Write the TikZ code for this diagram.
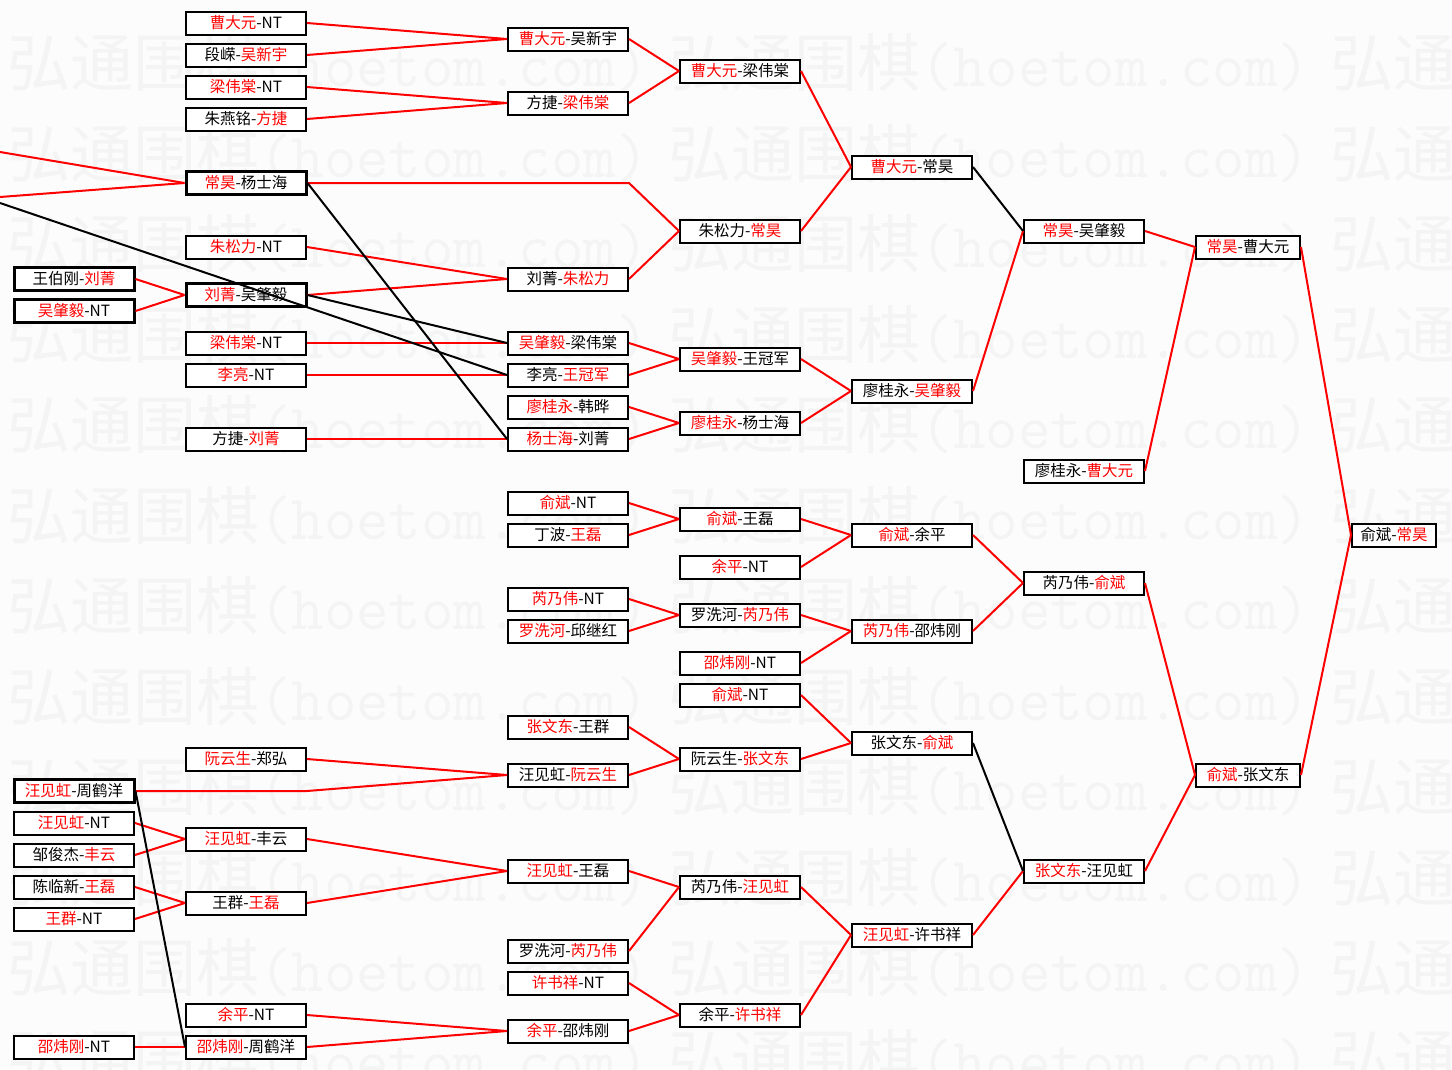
\documentclass[tikz,border=0pt]{standalone}
\usepackage{fontspec}
\setmainfont{Noto Sans CJK SC}
\newcommand\Rd[1]{\textcolor{red}{#1}}
\begin{document}
\begin{tikzpicture}[x=1pt,y=-1pt,
  box/.style={draw=black,line width=2pt,fill=white,minimum width=120pt,minimum height=23pt,inner sep=0pt,font=\fontsize{15.5}{16}\selectfont},
  tbox/.style={box,line width=3pt},
  rl/.style={draw=red,line width=2pt},
  bl/.style={draw=black,line width=2pt},
  wm/.style={anchor=west,inner sep=0pt,text=black!4.5,font=\fontsize{63}{63}\selectfont}]
\useasboundingbox (0,0) rectangle (1452,1069);
\fill[black!1.2] (0,0) rectangle (1452,1069);
\begin{scope}
\clip (0,0) rectangle (1452,1069);
\foreach \k in {0,...,11}{
  \foreach \j in {0,1,2}{
    \node[wm] (wm\k\j) at ({7+661.5*\j},{63+90.5*\k}) {弘通围棋{\ttfamily (hoetom.com)}};
  }
}
\end{scope}
% column A
\node[tbox] (a1) at (74,279) {王伯刚-\Rd{刘菁}};
\node[tbox] (a2) at (74,311) {\Rd{吴肇毅}-NT};
\node[tbox] (a3) at (74,791) {\Rd{汪见虹}-周鹤洋};
\node[box] (a4) at (74,823) {\Rd{汪见虹}-NT};
\node[box] (a5) at (74,855) {邹俊杰-\Rd{丰云}};
\node[box] (a6) at (74,887) {陈临新-\Rd{王磊}};
\node[box] (a7) at (74,919) {\Rd{王群}-NT};
\node[box] (a8) at (74,1047) {\Rd{邵炜刚}-NT};
% column B
\node[box] (b1) at (246,23) {\Rd{曹大元}-NT};
\node[box] (b2) at (246,55) {段嵘-\Rd{吴新宇}};
\node[box] (b3) at (246,87) {\Rd{梁伟棠}-NT};
\node[box] (b4) at (246,119) {朱燕铭-\Rd{方捷}};
\node[tbox] (b5) at (246,183) {\Rd{常昊}-杨士海};
\node[box] (b6) at (246,247) {\Rd{朱松力}-NT};
\node[tbox] (b7) at (246,295) {\Rd{刘菁}-吴肇毅};
\node[box] (b8) at (246,343) {\Rd{梁伟棠}-NT};
\node[box] (b9) at (246,375) {\Rd{李亮}-NT};
\node[box] (b10) at (246,439) {方捷-\Rd{刘菁}};
\node[box] (b11) at (246,759) {\Rd{阮云生}-郑弘};
\node[box] (b12) at (246,839) {\Rd{汪见虹}-丰云};
\node[box] (b13) at (246,903) {王群-\Rd{王磊}};
\node[box] (b14) at (246,1015) {\Rd{余平}-NT};
\node[box] (b15) at (246,1047) {\Rd{邵炜刚}-周鹤洋};
% column C
\node[box] (c1) at (568,39) {\Rd{曹大元}-吴新宇};
\node[box] (c2) at (568,103) {方捷-\Rd{梁伟棠}};
\node[box] (c3) at (568,279) {刘菁-\Rd{朱松力}};
\node[box] (c4) at (568,343) {\Rd{吴肇毅}-梁伟棠};
\node[box] (c5) at (568,375) {李亮-\Rd{王冠军}};
\node[box] (c6) at (568,407) {\Rd{廖桂永}-韩晔};
\node[box] (c7) at (568,439) {\Rd{杨士海}-刘菁};
\node[box] (c8) at (568,503) {\Rd{俞斌}-NT};
\node[box] (c9) at (568,535) {丁波-\Rd{王磊}};
\node[box] (c10) at (568,599) {\Rd{芮乃伟}-NT};
\node[box] (c11) at (568,631) {\Rd{罗洗河}-邱继红};
\node[box] (c12) at (568,727) {\Rd{张文东}-王群};
\node[box] (c13) at (568,775) {汪见虹-\Rd{阮云生}};
\node[box] (c14) at (568,871) {\Rd{汪见虹}-王磊};
\node[box] (c15) at (568,951) {罗洗河-\Rd{芮乃伟}};
\node[box] (c16) at (568,983) {\Rd{许书祥}-NT};
\node[box] (c17) at (568,1031) {\Rd{余平}-邵炜刚};
% column D
\node[box] (d1) at (740,71) {\Rd{曹大元}-梁伟棠};
\node[box] (d2) at (740,231) {朱松力-\Rd{常昊}};
\node[box] (d3) at (740,359) {\Rd{吴肇毅}-王冠军};
\node[box] (d4) at (740,423) {\Rd{廖桂永}-杨士海};
\node[box] (d5) at (740,519) {\Rd{俞斌}-王磊};
\node[box] (d6) at (740,567) {\Rd{余平}-NT};
\node[box] (d7) at (740,615) {罗洗河-\Rd{芮乃伟}};
\node[box] (d8) at (740,663) {\Rd{邵炜刚}-NT};
\node[box] (d9) at (740,695) {\Rd{俞斌}-NT};
\node[box] (d10) at (740,759) {阮云生-\Rd{张文东}};
\node[box] (d11) at (740,887) {芮乃伟-\Rd{汪见虹}};
\node[box] (d12) at (740,1015) {余平-\Rd{许书祥}};
% column E
\node[box] (e1) at (912,167) {\Rd{曹大元}-常昊};
\node[box] (e2) at (912,391) {廖桂永-\Rd{吴肇毅}};
\node[box] (e3) at (912,535) {\Rd{俞斌}-余平};
\node[box] (e4) at (912,631) {\Rd{芮乃伟}-邵炜刚};
\node[box] (e5) at (912,743) {张文东-\Rd{俞斌}};
\node[box] (e6) at (912,935) {\Rd{汪见虹}-许书祥};
% column F
\node[box] (f1) at (1084,231) {\Rd{常昊}-吴肇毅};
\node[box] (f2) at (1084,471) {廖桂永-\Rd{曹大元}};
\node[box] (f3) at (1084,583) {芮乃伟-\Rd{俞斌}};
\node[box] (f4) at (1084,871) {\Rd{张文东}-汪见虹};
% column G
\node[box,minimum width=104pt] (g1) at (1248,247) {\Rd{常昊}-曹大元};
\node[box,minimum width=104pt] (g2) at (1248,775) {\Rd{俞斌}-张文东};
% column H
\node[box,minimum width=84pt] (h1) at (1394,535) {俞斌-\Rd{常昊}};
% free ends and bends
\coordinate (L1) at (0,152);
\coordinate (L2) at (0,197);
\coordinate (L3) at (0,203);
\coordinate (k1) at (629,183);
\coordinate (k2) at (307,791);
% red connectors
\draw[rl] (b1.east) -- (c1.west);
\draw[rl] (b2.east) -- (c1.west);
\draw[rl] (b3.east) -- (c2.west);
\draw[rl] (b4.east) -- (c2.west);
\draw[rl] (c1.east) -- (d1.west);
\draw[rl] (c2.east) -- (d1.west);
\draw[rl] (b5.east) -- (k1) -- (d2.west);
\draw[rl] (c3.east) -- (d2.west);
\draw[rl] (d1.east) -- (e1.west);
\draw[rl] (d2.east) -- (e1.west);
\draw[rl] (b6.east) -- (c3.west);
\draw[rl] (b7.east) -- (c3.west);
\draw[rl] (a1.east) -- (b7.west);
\draw[rl] (a2.east) -- (b7.west);
\draw[rl] (L1) -- (b5.west);
\draw[rl] (L2) -- (b5.west);
\draw[rl] (b8.east) -- (c4.west);
\draw[rl] (b9.east) -- (c5.west);
\draw[rl] (b10.east) -- (c7.west);
\draw[rl] (c4.east) -- (d3.west);
\draw[rl] (c5.east) -- (d3.west);
\draw[rl] (c6.east) -- (d4.west);
\draw[rl] (c7.east) -- (d4.west);
\draw[rl] (d3.east) -- (e2.west);
\draw[rl] (d4.east) -- (e2.west);
\draw[rl] (e2.east) -- (f1.west);
\draw[rl] (f1.east) -- (g1.west);
\draw[rl] (f2.east) -- (g1.west);
\draw[rl] (g1.east) -- (h1.west);
\draw[rl] (g2.east) -- (h1.west);
\draw[rl] (c8.east) -- (d5.west);
\draw[rl] (c9.east) -- (d5.west);
\draw[rl] (d5.east) -- (e3.west);
\draw[rl] (d6.east) -- (e3.west);
\draw[rl] (c10.east) -- (d7.west);
\draw[rl] (c11.east) -- (d7.west);
\draw[rl] (d7.east) -- (e4.west);
\draw[rl] (d8.east) -- (e4.west);
\draw[rl] (e3.east) -- (f3.west);
\draw[rl] (e4.east) -- (f3.west);
\draw[rl] (f3.east) -- (g2.west);
\draw[rl] (d9.east) -- (e5.west);
\draw[rl] (d10.east) -- (e5.west);
\draw[rl] (c12.east) -- (d10.west);
\draw[rl] (c13.east) -- (d10.west);
\draw[rl] (b11.east) -- (c13.west);
\draw[rl] (a3.east) -- (k2) -- (c13.west);
\draw[rl] (f4.east) -- (g2.west);
\draw[rl] (a4.east) -- (b12.west);
\draw[rl] (a5.east) -- (b12.west);
\draw[rl] (a6.east) -- (b13.west);
\draw[rl] (a7.east) -- (b13.west);
\draw[rl] (b12.east) -- (c14.west);
\draw[rl] (b13.east) -- (c14.west);
\draw[rl] (c14.east) -- (d11.west);
\draw[rl] (c15.east) -- (d11.west);
\draw[rl] (d11.east) -- (e6.west);
\draw[rl] (d12.east) -- (e6.west);
\draw[rl] (e6.east) -- (f4.west);
\draw[rl] (c16.east) -- (d12.west);
\draw[rl] (c17.east) -- (d12.west);
\draw[rl] (b14.east) -- (c17.west);
\draw[rl] (b15.east) -- (c17.west);
\draw[rl] (a8.east) -- (b15.west);
% black connectors
\draw[bl] (e1.east) -- (f1.west);
\draw[bl] (e5.east) -- (f4.west);
\draw[bl] (b7.east) -- (c4.west);
\draw[bl] (b5.east) -- (c7.west);
\draw[bl] (L3) -- (c5.west);
\draw[bl] (a3.east) -- (b15.west);
\end{tikzpicture}
\end{document}
